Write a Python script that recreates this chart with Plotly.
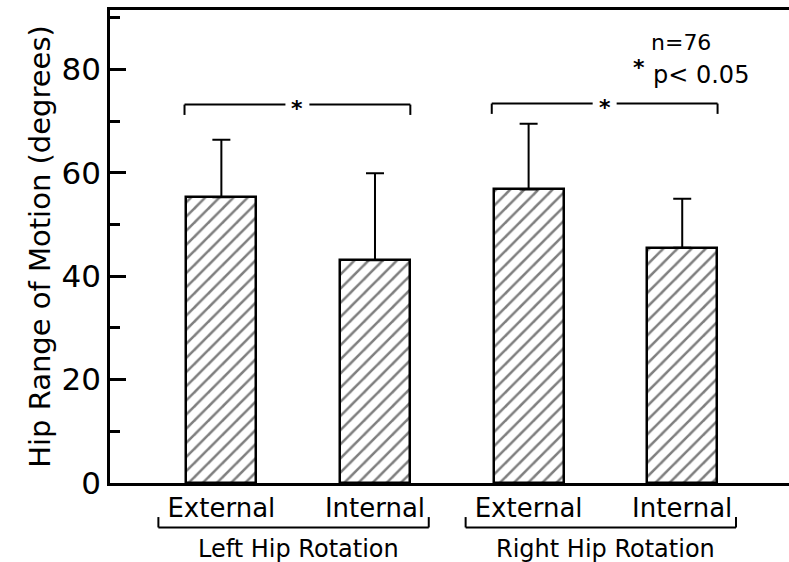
import plotly.graph_objects as go

# ---- data ----
categories = ["External", "Internal", "External", "Internal"]
groups = ["Left Hip Rotation", "Right Hip Rotation"]
means = [55.3, 43.1, 56.8, 45.5]
sd_upper = [11.1, 16.8, 12.7, 9.5]
sig_bracket_y = [73.2, 73.4]
n_text = "n=76"
p_text = "p< 0.05"
y_ticks = [0, 20, 40, 60, 80]

FONT = "DejaVu Sans"
x_pos = list(range(len(categories)))

fig = go.Figure()
fig.add_trace(go.Bar(
    x=x_pos, y=means, width=0.456,
    marker=dict(color="white",
                line=dict(color="black", width=2.5),
                pattern=dict(shape="/", size=10, solidity=0.25, fgcolor="black", bgcolor="white")),
    error_y=dict(type="data", array=sd_upper, arrayminus=[0] * len(means), symmetric=False,
                 color="black", thickness=2, width=9),
    showlegend=False,
))

shapes = []
annotations = []
# significance brackets above each pair
for g, yb in enumerate(sig_bracket_y):
    x0 = x_pos[2 * g] - 0.24
    x1 = x_pos[2 * g + 1] + 0.23
    xm = (x0 + x1) / 2
    gap = 0.078
    line = dict(color="black", width=2)
    shapes += [
        dict(type="line", xref="x", yref="y", x0=x0, x1=xm - gap, y0=yb, y1=yb, line=line),
        dict(type="line", xref="x", yref="y", x0=xm + gap, x1=x1, y0=yb, y1=yb, line=line),
        dict(type="line", xref="x", yref="y", x0=x0, x1=x0, y0=yb, y1=yb - 2, line=line),
        dict(type="line", xref="x", yref="y", x0=x1, x1=x1, y0=yb, y1=yb - 2, line=line),
    ]
    annotations.append(dict(x=xm, y=yb, xref="x", yref="y", text="<b>*</b>", showarrow=False,
                            font=dict(family=FONT, size=22, color="black"), yshift=-4))

# group brackets under the tick labels
for g, name in enumerate(groups):
    x0 = x_pos[2 * g] - 0.41
    x1 = x_pos[2 * g + 1] + 0.35
    line = dict(color="black", width=2)
    yb, yt = -0.094, -0.072
    shapes += [
        dict(type="line", xref="x", yref="paper", x0=x0, x1=x1, y0=yb, y1=yb, line=line),
        dict(type="line", xref="x", yref="paper", x0=x0, x1=x0, y0=yb, y1=yt, line=line),
        dict(type="line", xref="x", yref="paper", x0=x1, x1=x1, y0=yb, y1=yt, line=line),
    ]
    annotations.append(dict(x=(x_pos[2 * g] + x_pos[2 * g + 1]) / 2, y=-0.14, xref="x", yref="paper",
                            text=name, showarrow=False, yanchor="middle",
                            font=dict(family=FONT, size=24, color="black")))

annotations += [
    dict(x=2.99, y=85.3, xref="x", yref="y", text=n_text, showarrow=False,
         font=dict(family=FONT, size=22, color="black")),
    dict(x=3.12, y=79.0, xref="x", yref="y", text=p_text, showarrow=False,
         font=dict(family=FONT, size=24, color="black")),
    dict(x=2.72, y=80.4, xref="x", yref="y", text="<b>*</b>", showarrow=False,
         font=dict(family=FONT, size=22, color="black")),
]

fig.update_layout(
    width=789, height=562,
    margin=dict(l=110, r=0, t=10, b=79),
    plot_bgcolor="white", paper_bgcolor="white",
    bargap=0,
    shapes=shapes, annotations=annotations,
    xaxis=dict(range=[-0.725, 3.695], tickvals=x_pos, ticktext=categories,
               showline=True, linecolor="black", linewidth=2.5, mirror=True,
               ticks="", showgrid=False, zeroline=False,
               tickfont=dict(family=FONT, size=26, color="black")),
    yaxis=dict(range=[0, 91.5], tickvals=y_ticks,
               showline=True, linecolor="black", linewidth=2.5,
               ticks="inside", ticklen=16, tickwidth=2.5, tickcolor="black",
               minor=dict(ticks="inside", ticklen=10, tickwidth=2.5, tickcolor="black", dtick=10, tick0=10),
               showgrid=False, zeroline=False,
               tickfont=dict(family=FONT, size=31, color="black"),
               title=dict(text="Hip Range of Motion (degrees)", standoff=3,
                          font=dict(family=FONT, size=29, color="black"))),
)

fig.write_html("out.html")
